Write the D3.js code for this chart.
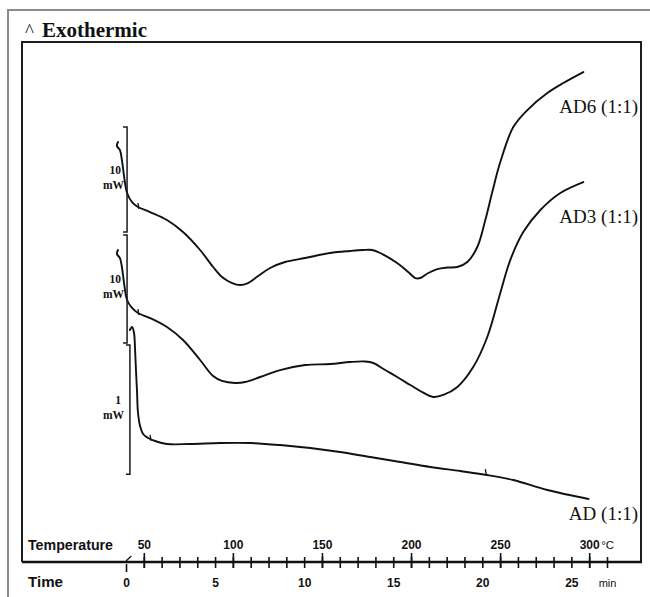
<!DOCTYPE html>
<html>
<head>
<meta charset="utf-8">
<script src="https://cdn.jsdelivr.net/npm/d3@7"></script>
<style>
  html, body { margin: 0; padding: 0; background: #fff; }
  svg { display: block; }
</style>
</head>
<body>
<svg id="chart" width="650" height="597"></svg>
<script>
// DSC thermograms, heat flow (offset curves, mW) against time; heating 10 °C/min

const seriesNames = ["AD6 (1:1)", "AD3 (1:1)", "AD (1:1)"];

const ad6Time = [-0.45, -0.51, -0.34, -0.23, -0.11, 0.06, 0.34, 0.67, 1.35, 2.30, 3.20, 4.16, 4.89, 5.39,
  5.96, 6.40, 6.85, 7.42, 8.09, 8.93, 10.06, 11.46, 12.58, 13.31, 13.82, 14.27, 15.22, 15.84, 16.24,
  16.52, 16.97, 17.47, 18.03, 18.60, 19.16, 19.72, 20.17, 20.56, 21.01, 21.74, 22.53,
  23.65, 24.55, 25.67];
const ad6Flow = [39.25, 38.88, 38.50, 37.57, 36.07, 34.49, 33.64, 33.18, 32.71, 31.96, 30.84, 29.16, 27.57, 26.64,
  26.07, 25.89, 26.07, 26.73, 27.48, 28.04, 28.41, 28.88, 29.07, 29.16, 29.16, 28.88, 27.94, 27.10, 26.54,
  26.54, 27.01, 27.38, 27.52, 27.57, 28.04, 29.44, 31.96, 34.58, 37.38, 40.65, 42.24,
  43.83, 44.77, 45.79];

const ad3Time = [-0.45, -0.51, -0.34, -0.23, -0.11, 0.06, 0.34, 0.67, 1.35, 2.30, 3.20, 4.16, 4.89, 5.39,
  6.12, 6.69, 7.53, 8.65, 10.06, 11.46, 12.58, 13.43, 13.88, 14.55, 15.22, 15.96, 16.52, 17.25, 17.81,
  18.60, 19.49, 20.28, 21.01, 21.57, 22.30, 23.26, 24.38, 25.67];
const ad3Flow = [29.16, 28.79, 28.41, 27.57, 26.07, 24.49, 23.74, 23.27, 22.80, 21.96, 20.75, 18.88, 17.38, 16.92,
  16.73, 16.82, 17.29, 17.94, 18.41, 18.50, 18.69, 18.74, 18.60, 17.94, 17.29, 16.54, 15.98, 15.42, 15.61,
  16.36, 18.22, 21.03, 25.14, 28.22, 30.84, 32.90, 34.49, 35.51];

const adTime = [0.22, 0.34, 0.45, 0.51, 0.56, 0.62, 0.67, 0.79, 0.96, 1.24, 1.63, 2.30, 3.60, 5.28, 6.97,
  8.65, 10.34, 12.02, 13.71, 15.39, 17.08, 18.76, 20.28, 21.74, 23.65, 25.96];
const adFlow = [21.68, 21.96, 21.40, 19.81, 17.94, 15.89, 14.02, 12.71, 11.96, 11.59, 11.31, 11.03, 11.03, 11.12, 11.12,
  10.93, 10.65, 10.28, 9.81, 9.35, 8.88, 8.50, 8.13, 7.66, 6.73, 5.89];

// small event marks drawn across each trace
const markTime = [0.67, 0.67, 1.35, 20.17];
const markFlow = [33.18, 23.27, 11.50, 8.30];

// scale bars (mW) at the start of the traces
const barLabels = ["10", "10", "1"];
const barTime = [0.06, 0.06, 0.22];
const barTop = [40.65, 30.56, 20.28];
const barBottom = [30.84, 20.47, 8.20];

// axes
const timeTicks = d3.range(0, 28);
const timeLabels = [0, 5, 10, 15, 20, 25];
const tempTicks = [50, 100, 150, 200, 250, 300];

const svg = d3.select("#chart");
const W = 650, H = 597;
const box = { left: 22, top: 42, right: 641, bottom: 562 };
const serif = "'Liberation Serif', 'Times New Roman', serif";
const sans = "'Liberation Sans', Arial, sans-serif";

const x = d3.scaleLinear().domain([0, 27]).range([126, 607]);
const xTemp = d3.scaleLinear().domain([40, 310]).range([126, 607]);
const y = d3.scaleLinear().domain([0, 48.6]).range([box.bottom, box.top]);

svg.append("rect").attr("width", W).attr("height", H).attr("fill", "#fff");

// outer frame
svg.append("rect")
  .attr("x", 8).attr("y", 10).attr("width", 700).attr("height", 700)
  .attr("fill", "none").attr("stroke", "#8c8c8c").attr("stroke-width", 2);

// title
svg.append("text").attr("x", 25).attr("y", 37)
  .attr("font-family", serif).attr("font-size", 19).attr("fill", "#111").text("^");
svg.append("text").attr("x", 42).attr("y", 37)
  .attr("font-family", serif).attr("font-size", 21).attr("font-weight", "bold")
  .attr("fill", "#111").text("Exothermic");

// plot box
svg.append("path")
  .attr("d", `M${box.left},${box.bottom}V${box.top}H${box.right}V${box.bottom}`)
  .attr("fill", "none").attr("stroke", "#1e1e1e").attr("stroke-width", 2);
svg.append("line")
  .attr("x1", box.left).attr("x2", box.right + 1)
  .attr("y1", box.bottom).attr("y2", box.bottom)
  .attr("stroke", "#111").attr("stroke-width", 2.6);

// traces
const line = d3.line().x(d => x(d[0])).y(d => y(d[1])).curve(d3.curveCatmullRom.alpha(0.5));
const traces = [
  d3.zip(ad6Time, ad6Flow),
  d3.zip(ad3Time, ad3Flow),
  d3.zip(adTime, adFlow)
];
svg.append("g").selectAll("path").data(traces).join("path")
  .attr("d", line)
  .attr("fill", "none").attr("stroke", "#111").attr("stroke-width", 1.9)
  .attr("stroke-linejoin", "round").attr("stroke-linecap", "round");

svg.append("g").selectAll("line").data(d3.zip(markTime, markFlow)).join("line")
  .attr("x1", d => x(d[0])).attr("x2", d => x(d[0]) + 1)
  .attr("y1", d => y(d[1]) - 4).attr("y2", d => y(d[1]) + 2)
  .attr("stroke", "#111").attr("stroke-width", 1.3);

// trace labels, set just below the end of each trace
const labelAt = [ad6Flow[ad6Flow.length - 1], ad3Flow[ad3Flow.length - 1], adFlow[adFlow.length - 1]];
svg.append("g").selectAll("text").data(seriesNames).join("text")
  .attr("x", 638)
  .attr("y", (d, i) => y(labelAt[i]) + (i === 2 ? 21 : 41))
  .attr("text-anchor", "end")
  .attr("font-family", serif).attr("font-size", 19).attr("fill", "#111")
  .text(d => d);

// scale bars
const bars = svg.append("g");
barLabels.forEach((lab, i) => {
  const bx = x(barTime[i]), y0 = y(barTop[i]), y1 = y(barBottom[i]);
  bars.append("path")
    .attr("d", `M${bx - 4},${y0}H${bx}V${y1}H${bx - 4}`)
    .attr("fill", "none").attr("stroke", "#1a1a1a").attr("stroke-width", 1.5);
  const mid = (y0 + y1) / 2;
  bars.append("text").attr("x", 121).attr("y", mid - 6).attr("text-anchor", "end")
    .attr("font-family", serif).attr("font-size", 11.5).attr("font-weight", "bold")
    .attr("fill", "#111").text(lab);
  bars.append("text").attr("x", 124).attr("y", mid + 9).attr("text-anchor", "end")
    .attr("font-family", serif).attr("font-size", 11.5).attr("font-weight", "bold")
    .attr("fill", "#111").text("mW");
});

// time axis
const tAxis = svg.append("g").attr("transform", `translate(0,${box.bottom})`)
  .call(d3.axisBottom(x).tickValues(timeTicks).tickSize(6)
    .tickFormat(d => d === 27 ? "min" : (timeLabels.includes(d) ? d : "")));
tAxis.select(".domain").remove();
tAxis.selectAll(".tick line")
  .attr("y1", d => d === 0 ? 2 : -5).attr("y2", d => d === 0 ? 10 : 6)
  .attr("stroke", "#111").attr("stroke-width", 1.6);
tAxis.selectAll(".tick text")
  .attr("y", 25).attr("dy", 0)
  .attr("font-family", sans)
  .attr("font-size", d => d === 27 ? 11 : 12)
  .attr("font-weight", d => d === 27 ? "normal" : "bold")
  .attr("fill", "#111");
svg.append("line")
  .attr("x1", x(0)).attr("y1", box.bottom - 1)
  .attr("x2", x(0.3)).attr("y2", box.bottom - 6)
  .attr("stroke", "#111").attr("stroke-width", 1.3);

// temperature axis
const cAxis = svg.append("g").attr("transform", `translate(0,${box.bottom})`)
  .call(d3.axisTop(xTemp).tickValues(tempTicks).tickSize(9));
cAxis.select(".domain").remove();
cAxis.selectAll(".tick line")
  .attr("y1", 6).attr("y2", -9)
  .attr("stroke", "#111").attr("stroke-width", 1.6);
cAxis.selectAll(".tick text")
  .attr("y", -13).attr("dy", 0)
  .attr("font-family", sans)
  .attr("font-size", 12).attr("font-weight", "bold").attr("fill", "#111");
svg.append("text").attr("x", xTemp(300) + 12).attr("y", box.bottom - 13)
  .attr("font-family", sans)
  .attr("font-size", 11.5).attr("fill", "#111").text("°C");

// axis titles
svg.append("text").attr("x", 28).attr("y", box.bottom - 12)
  .attr("font-family", sans)
  .attr("font-size", 15).attr("font-weight", "bold").attr("fill", "#111")
  .attr("textLength", 85).attr("lengthAdjust", "spacingAndGlyphs")
  .text("Temperature");
svg.append("text").attr("x", 28).attr("y", box.bottom + 25)
  .attr("font-family", sans)
  .attr("font-size", 15).attr("font-weight", "bold").attr("fill", "#111")
  .attr("textLength", 35).attr("lengthAdjust", "spacingAndGlyphs")
  .text("Time");
</script>
</body>
</html>
